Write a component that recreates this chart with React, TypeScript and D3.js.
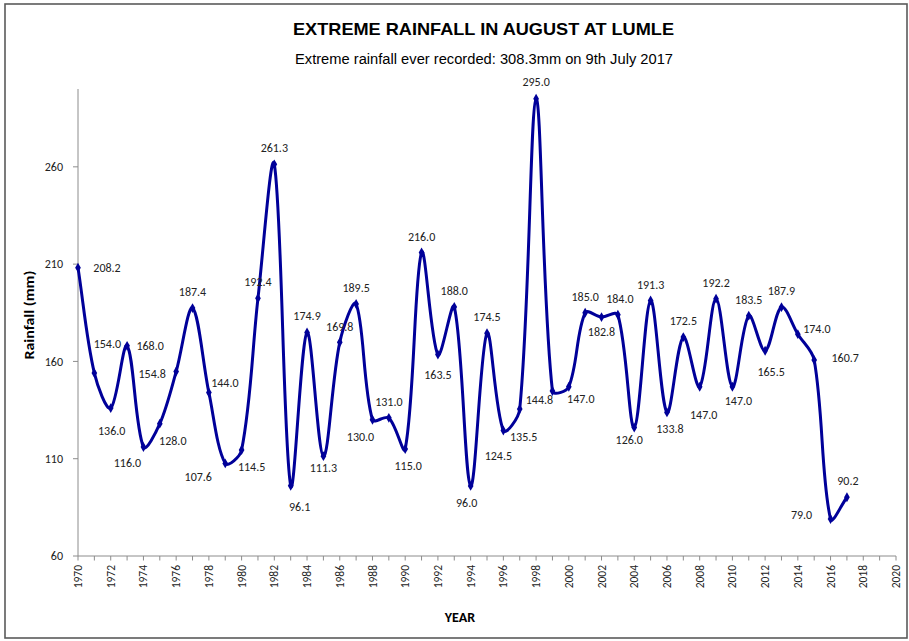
import React from "react";
import * as d3 from "d3";

const years = [
  1970, 1971, 1972, 1973, 1974, 1975, 1976, 1977, 1978, 1979,
  1980, 1981, 1982, 1983, 1984, 1985, 1986, 1987, 1988, 1989,
  1990, 1991, 1992, 1993, 1994, 1995, 1996, 1997, 1998, 1999,
  2000, 2001, 2002, 2003, 2004, 2005, 2006, 2007, 2008, 2009,
  2010, 2011, 2012, 2013, 2014, 2015, 2016, 2017,
];
const rainfall = [
  208.2, 154.0, 136.0, 168.0, 116.0, 128.0, 154.8, 187.4, 144.0, 107.6,
  114.5, 192.4, 261.3, 96.1, 174.9, 111.3, 169.8, 189.5, 130.0, 131.0,
  115.0, 216.0, 163.5, 188.0, 96.0, 174.5, 124.5, 135.5, 295.0, 144.8,
  147.0, 185.0, 182.8, 184.0, 126.0, 191.3, 133.8, 172.5, 147.0, 192.2,
  147.0, 183.5, 165.5, 187.9, 174.0, 160.7, 79.0, 90.2,
];
const yTicks = [60, 110, 160, 210, 260];
const xLabelTicks = d3.range(1970, 2021, 2);
const xMinorTicks = d3.range(1970, 2021, 1);

// label placement offsets (layout only), [dx, dy] from each point
const labelOffsets: [number, number][] = [
  [29, 0], [13, -29], [1, 23], [23, 0], [-16, 16], [13, 17], [-24, 2], [0, -16], [16, -10], [-27, 13],
  [10, 17], [0, -17], [0, -17], [9, 21], [0, -17], [0, 12], [0, -16], [0, -16], [-12, 17], [0, -16],
  [3, 17], [0, -16], [0, 20], [0, -16], [-4, 17], [0, -16], [-5, 25], [4, 28], [0, -17], [-13, 9],
  [12, 12], [0, -16], [0, 15], [2, -16], [-5, 12], [0, -16], [3, 16], [0, -16], [4, 28], [0, -16],
  [6, 14], [0, -16], [6, 21], [0, -16], [19, -5], [31, -2], [-29, -4], [1, -16],
];

const W = 909;
const H = 641;
const LINE = "#000099";
const FONT = "Carlito, Calibri, Lato, sans-serif";

// Excel-like smoothed line: Bezier control points with chord-length weighted tangents
function smoothPath(pts: [number, number][]): string {
  const p = d3.path();
  const n = pts.length;
  if (!n) return "";
  p.moveTo(pts[0][0], pts[0][1]);
  const dist = (a: [number, number], b: [number, number]) => Math.hypot(b[0] - a[0], b[1] - a[1]);
  for (let i = 0; i < n - 1; i++) {
    const p0 = pts[Math.max(0, i - 1)];
    const p1 = pts[i];
    const p2 = pts[i + 1];
    const p3 = pts[Math.min(n - 1, i + 2)];
    const d01 = dist(p0, p1);
    const d12 = dist(p1, p2);
    const d23 = dist(p2, p3);
    const s1 = d01 + d12 > 0 ? d12 / (d01 + d12) / 3 : 0;
    const s2 = d12 + d23 > 0 ? d12 / (d12 + d23) / 3 : 0;
    const c1x = p1[0] + (p2[0] - p0[0]) * s1;
    const c1y = p1[1] + (p2[1] - p0[1]) * s1;
    const c2x = p2[0] - (p3[0] - p1[0]) * s2;
    const c2y = p2[1] - (p3[1] - p1[1]) * s2;
    p.bezierCurveTo(c1x, c1y, c2x, c2y, p2[0], p2[1]);
  }
  return p.toString();
}

export default function App() {
  const x = d3.scaleLinear().domain([1970, 2020]).range([78, 896]);
  const y = d3.scaleLinear().domain([60, 300]).range([556, 89]);
  const pts: [number, number][] = years.map((yr, i) => [x(yr), y(rainfall[i])]);
  const line = smoothPath(pts);
  const diamond = d3.symbol().type(d3.symbolDiamond).size(28)() || "";

  return (
    <svg
      width={W}
      height={H}
      style={{ position: "absolute", left: 0, top: 0, background: "#fff" }}
    >
      <rect x={0} y={0} width={W} height={H} fill="#fff" />
      <rect x={5} y={4} width={902} height={634} fill="#fff" stroke="#5a5a5a" strokeWidth={1.6} />

      <text
        x={483.5}
        y={35}
        textAnchor="middle"
        fontFamily="'Liberation Sans Narrow', 'Arial Narrow', 'Liberation Sans', Arial, sans-serif"
        fontWeight="bold"
        fontSize={17}
        textLength={381}
        lengthAdjust="spacingAndGlyphs"
      >
        EXTREME RAINFALL IN AUGUST AT LUMLE
      </text>
      <text
        x={484}
        y={64}
        textAnchor="middle"
        fontFamily="'Liberation Sans Narrow', 'Arial Narrow', 'Liberation Sans', Arial, sans-serif"
        fontSize={14}
        textLength={378}
        lengthAdjust="spacingAndGlyphs"
      >
        Extreme rainfall ever recorded: 308.3mm on 9th July 2017
      </text>

      {/* y axis */}
      <line x1={78} x2={78} y1={y(300)} y2={y(60)} stroke="#8c8c8c" strokeWidth={1} />
      {yTicks.map((t) => (
        <g key={"y" + t}>
          <line x1={73} x2={78} y1={y(t)} y2={y(t)} stroke="#8c8c8c" />
          <text
            x={63}
            y={y(t)}
            dy="0.35em"
            textAnchor="end"
            fontFamily={FONT}
            fontSize={12}
            fill="#222"
          >
            {t}
          </text>
        </g>
      ))}
      <text
        transform={`translate(34,315) rotate(-90)`}
        textAnchor="middle"
        fontFamily={FONT}
        fontWeight="bold"
        fontSize={13.5}
        textLength={89}
        lengthAdjust="spacingAndGlyphs"
      >
        Rainfall (mm)
      </text>

      {/* x axis */}
      <line x1={x(1970)} x2={x(2020)} y1={556} y2={556} stroke="#8c8c8c" strokeWidth={1} />
      {xMinorTicks.map((t) => (
        <line key={"xt" + t} x1={x(t)} x2={x(t)} y1={556} y2={560.5} stroke="#8c8c8c" />
      ))}
      {xLabelTicks.map((t) => (
        <text
          key={"xl" + t}
          transform={`translate(${x(t)},565) rotate(-90)`}
          dy="0.35em"
          textAnchor="end"
          fontFamily={FONT}
          fontSize={11.5}
          fill="#222"
        >
          {t}
        </text>
      ))}
      <text
        x={460}
        y={622}
        textAnchor="middle"
        fontFamily={FONT}
        fontWeight="bold"
        fontSize={14}
      >
        YEAR
      </text>

      {/* series */}
      <path d={line} fill="none" stroke={LINE} strokeWidth={3} strokeLinejoin="round" />
      {pts.map(([px, py], i) => (
        <path key={"m" + i} d={diamond} transform={`translate(${px},${py})`} fill={LINE} />
      ))}
      {pts.map(([px, py], i) => (
        <text
          key={"l" + i}
          x={px + labelOffsets[i][0]}
          y={py + labelOffsets[i][1]}
          dy="0.35em"
          textAnchor="middle"
          fontFamily={FONT}
          fontSize={12}
          fill="#222"
        >
          {rainfall[i].toFixed(1)}
        </text>
      ))}
    </svg>
  );
}
